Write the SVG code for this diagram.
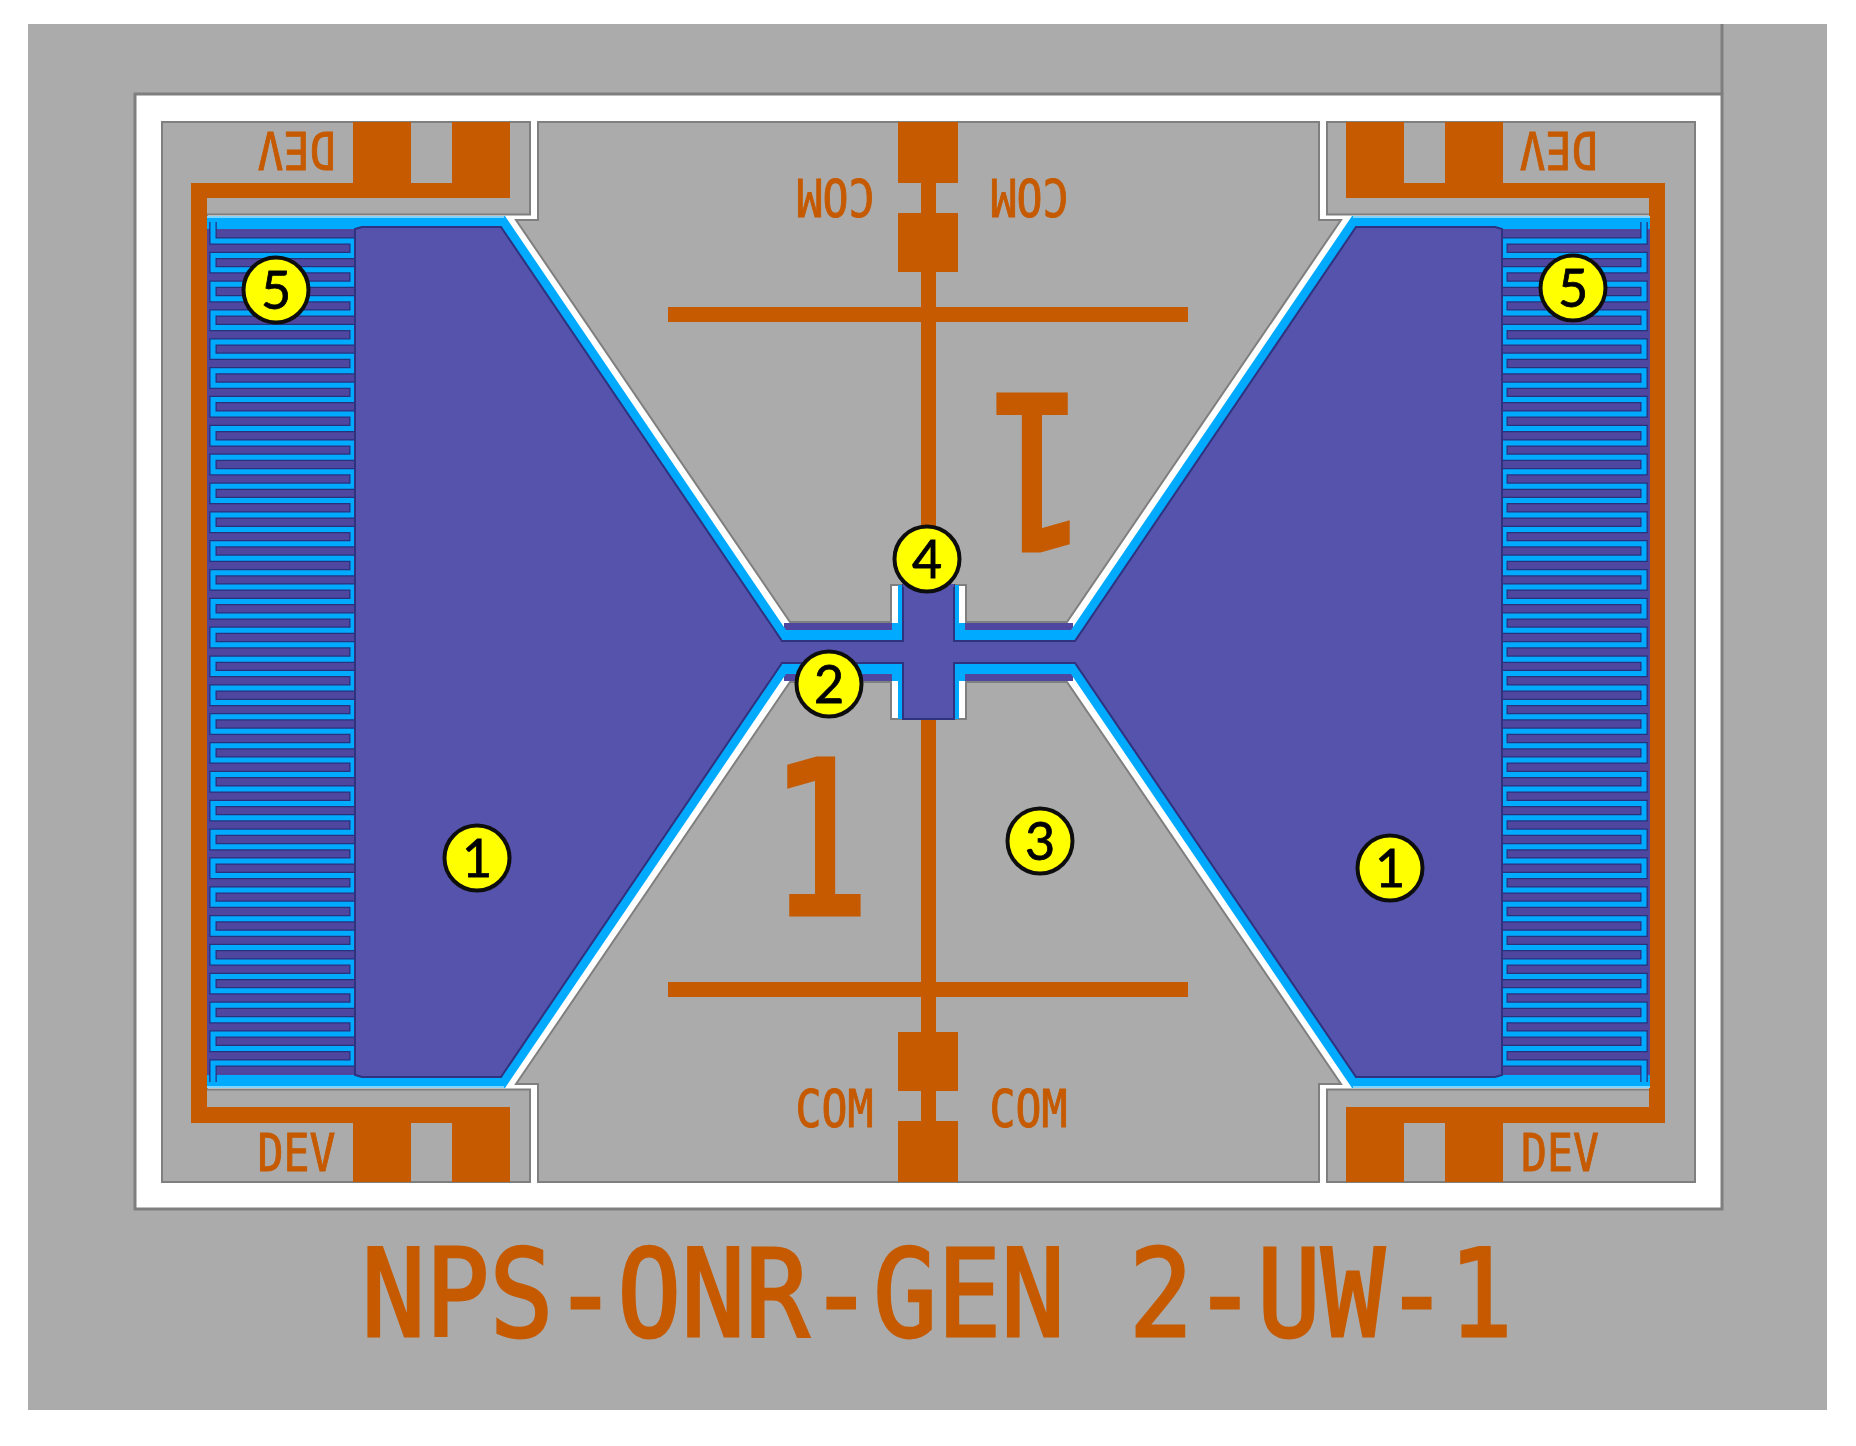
<svg xmlns="http://www.w3.org/2000/svg" width="1856" height="1446" viewBox="0 0 1856 1446">
<defs>
<style>
.g{fill:#ababab;stroke:#7f7f7f;stroke-width:2}
.o{fill:#c55a00}
.bl{fill:#00aaff}
.pu{fill:#5452ab;stroke:#2f327f;stroke-width:2}
.strip{fill:#4f479f}
.t{font-family:"DejaVu Sans Mono",monospace;fill:#c55a00;stroke:#c55a00}
.sm{font-size:52px;stroke-width:1px}
.big{font-size:224px;stroke-width:5px}
.title{font-size:125px;stroke-width:3px}
.c{fill:#ffff00;stroke:#111;stroke-width:4}
.n{font-family:Lato,"Noto Sans",sans-serif;font-size:52px;fill:#000;stroke:#000;stroke-width:.8px;text-anchor:middle}
</style>
<filter id="soft" x="0" y="0" width="100%" height="100%"><feGaussianBlur stdDeviation="0.6"/></filter>
<path id="mp" fill="none" stroke-linejoin="miter" d="M213,222V241
H353v14.42H213v14.42H353v14.42H213v14.42H353v14.42H213v14.42H353v14.42H213v14.42
H353v14.42H213v14.42H353v14.42H213v14.42H353v14.42H213v14.42H353v14.42H213v14.42
H353v14.42H213v14.42H353v14.42H213v14.42H353v14.42H213v14.42H353v14.42H213v14.42
H353v14.42H213v14.42H353v14.42H213v14.42H353v14.42H213v14.42H353v14.42H213v14.42
H353v14.42H213v14.42H353v14.42H213v14.42H353v14.42H213v14.42H353v14.42H213v14.42
H353v14.42H213v14.42H353v14.42H213v14.42H353v14.42H213v14.42H353v14.42H213v14.42
H353v14.42H213v14.42H353v14.42H213v14.42H353v14.42H213v14.42H353v14.42H213v14.42
H353v14.42H213V1082"/>
</defs>
<rect width="1856" height="1446" fill="#fff"/>
<g filter="url(#soft)">
<g id="substrate">
<rect x="28" y="24" width="1799" height="1386" fill="#ababab"/>
<line x1="1722" y1="24" x2="1722" y2="94" stroke="#7f7f7f" stroke-width="3"/>
<rect x="135" y="94" width="1587" height="1115" fill="#fff" stroke="#7f7f7f" stroke-width="3"/>
</g>
<g id="ground-planes">
<polygon class="g" points="162,122 530,122 530,214.5 207,214.5 207,1089.5 530,1089.5 530,1182 162,1182"/>
<polygon class="g" points="1695,122 1327,122 1327,214.5 1650,214.5 1650,1089.5 1327,1089.5 1327,1182 1695,1182"/>
<polygon class="g" points="538,122 1319,122 1319,220 1341,220 1067,622 966,622 966,585 891,585 891,622 790,622 516,220 538,220"/>
<polygon class="g" points="538,1182 1319,1182 1319,1084 1341,1084 1067,682 966,682 966,719 891,719 891,682 790,682 516,1084 538,1084"/>
</g>
<g id="metal-traces">
<polygon class="o" points="191,183 353,183 353,122 411,122 411,183 452,183 452,122 510,122 510,198 207,198 207,1107 510,1107 510,1182 452,1182 452,1123 411,1123 411,1182 353,1182 353,1123 191,1123"/>
<polygon class="o" points="1665,183 1503,183 1503,122 1445,122 1445,183 1404,183 1404,122 1346,122 1346,198 1649,198 1649,1107 1346,1107 1346,1182 1404,1182 1404,1123 1445,1123 1445,1182 1503,1182 1503,1123 1665,1123"/>
<rect class="o" x="921" y="122" width="15" height="1060"/>
<rect class="o" x="898" y="122" width="60" height="61"/>
<rect class="o" x="898" y="213" width="60" height="59"/>
<rect class="o" x="898" y="1032" width="60" height="59"/>
<rect class="o" x="898" y="1121" width="60" height="61"/>
<rect class="o" x="668" y="307" width="520" height="15"/>
<rect class="o" x="668" y="982" width="520" height="15"/>
</g>
<g id="labels">
<text class="t sm" transform="translate(257.5,1171) scale(.83,1)">DEV</text>
<text class="t sm" transform="translate(1521,1171) scale(.83,1)">DEV</text>
<text class="t sm" transform="translate(335.5,132) rotate(180) scale(.83,1)">DEV</text>
<text class="t sm" transform="translate(1597.5,132) rotate(180) scale(.83,1)">DEV</text>
<text class="t sm" transform="translate(874.5,179) rotate(180) scale(.83,1)">COM</text>
<text class="t sm" transform="translate(1068.5,179) rotate(180) scale(.83,1)">COM</text>
<text class="t sm" transform="translate(795.5,1127) scale(.83,1)">COM</text>
<text class="t sm" transform="translate(989.5,1127) scale(.83,1)">COM</text>
<text class="t big" transform="translate(769,914) scale(.75,.95)">1</text>
<text class="t big" transform="translate(1088,395) rotate(180) scale(.75,.95)">1</text>
<text class="t title" transform="translate(361.5,1336) scale(.85,.97)">NPS-ONR-GEN 2-UW-1</text>
</g>
<g id="device">
<rect class="strip" x="784" y="623" width="108" height="8"/>
<rect class="strip" x="965" y="623" width="108" height="8"/>
<rect class="strip" x="784" y="673" width="108" height="8"/>
<rect class="strip" x="965" y="673" width="108" height="8"/>
<polygon class="bl" points="207,216 505,216 786,630 892,630 892,623 898,623 898,585 959,585 959,623 965,623 965,630 1071,630 1352,216 1650,216 1650,1088 1352,1088 1071,674 965,674 965,681 959,681 959,719 898,719 898,681 892,681 892,674 786,674 505,1088 207,1088"/>
<rect x="207" y="216" width="297" height="2" fill="#7fd4ff"/>
<rect x="1353" y="216" width="297" height="2" fill="#7fd4ff"/>
<rect x="207" y="1086" width="297" height="2" fill="#7fd4ff"/>
<rect x="1353" y="1086" width="297" height="2" fill="#7fd4ff"/>
<rect class="strip" x="207" y="229" width="149" height="846"/>
<rect class="strip" x="1501" y="229" width="149" height="846"/>
<g id="meander-left">
<use href="#mp" stroke="#27307c" stroke-width="7.5"/>
<use href="#mp" stroke="#00aaff" stroke-width="5"/>
</g>
<g id="meander-right" transform="translate(1857,0) scale(-1,1)">
<use href="#mp" stroke="#27307c" stroke-width="7.5"/>
<use href="#mp" stroke="#00aaff" stroke-width="5"/>
</g>
<polygon class="pu" points="355,229 362,227 501,227 782,641 903,641 903,585 954,585 954,641 1075,641 1356,227 1495,227 1502,229 1502,1075 1495,1077 1356,1077 1075,663 954,663 954,719 903,719 903,663 782,663 501,1077 362,1077 355,1075"/>
<rect x="903" y="584" width="51" height="3" fill="#5452ab"/>
<rect x="904" y="642" width="49" height="20" fill="#5452ab"/>
</g>
<g id="callout-5-left"><circle class="c" cx="276" cy="290" r="32.5"/><text class="n" x="276" y="309">5</text></g>
<g id="callout-5-right"><circle class="c" cx="1573" cy="288" r="32.5"/><text class="n" x="1573" y="307">5</text></g>
<g id="callout-4"><circle class="c" cx="927" cy="559" r="32.5"/><text class="n" x="927" y="578">4</text></g>
<g id="callout-2"><circle class="c" cx="829" cy="684" r="32.5"/><text class="n" x="829" y="703">2</text></g>
<g id="callout-3"><circle class="c" cx="1040" cy="841" r="32.5"/><text class="n" x="1040" y="860">3</text></g>
<g id="callout-1-left"><circle class="c" cx="477" cy="858" r="32.5"/><text class="n" x="477" y="877">1</text></g>
<g id="callout-1-right"><circle class="c" cx="1390" cy="868" r="32.5"/><text class="n" x="1390" y="887">1</text></g>
</g>
</svg>
